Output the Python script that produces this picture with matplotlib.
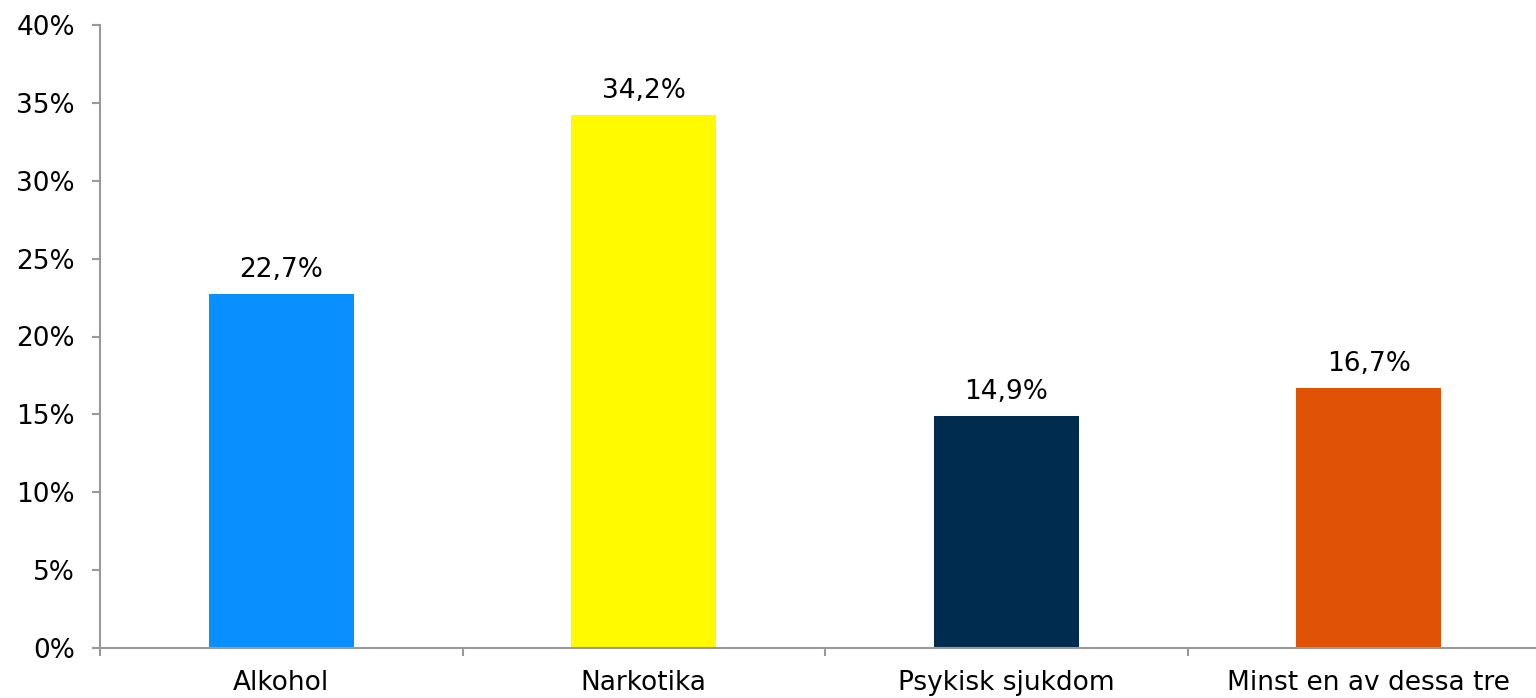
import matplotlib.pyplot as plt
from matplotlib.ticker import FuncFormatter

categories = ['Alkohol', 'Narkotika', 'Psykisk sjukdom', 'Minst en av dessa tre']
values = [22.7, 34.2, 14.9, 16.7]
colors = ['#0A8FFF', '#FFFA00', '#002D4F', '#E05206']
yticks = [0, 5, 10, 15, 20, 25, 30, 35, 40]

plt.rcParams['font.family'] = ['DejaVu Sans']

fig = plt.figure(figsize=(15.36, 6.98), dpi=100)
ax = fig.add_axes([100 / 1536, 1 - 648 / 698, 1450 / 1536, 623 / 698])

x = range(len(categories))
ax.bar(x, values, width=0.4, color=colors, zorder=2)

for i, v in enumerate(values):
    ax.annotate(f'{v:.1f}%'.replace('.', ','), (i, v), xytext=(0, 8),
                textcoords='offset points', ha='center', va='bottom', fontsize=19)

ax.set_ylim(0, 40)
ax.set_xlim(-0.5, len(categories) - 0.5)
ax.set_yticks(yticks)
ax.yaxis.set_major_formatter(FuncFormatter(lambda v, p: f'{v:.0f}%'))
ax.set_xticks(x)
ax.set_xticklabels(categories)
ax.set_xticks([i + 0.5 for i in range(-1, len(categories))], minor=True)

for s in ['top', 'right']:
    ax.spines[s].set_visible(False)
for s in ['left', 'bottom']:
    ax.spines[s].set_color('#999999')
    ax.spines[s].set_linewidth(1.5)

ax.tick_params(axis='y', length=6, width=1.5, color='#999999', labelsize=19, pad=12)
ax.tick_params(axis='x', which='major', length=0, labelsize=19, pad=16)
ax.tick_params(axis='x', which='minor', length=6, width=1.5, color='#999999')

fig.savefig('out.png', dpi=100)
